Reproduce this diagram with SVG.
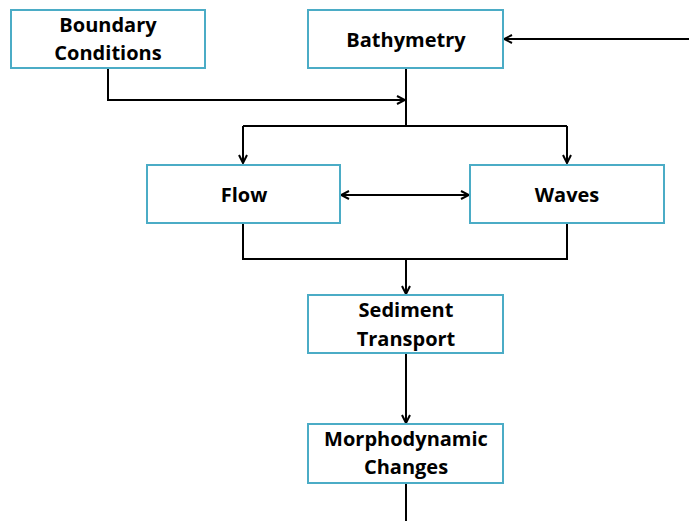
<svg xmlns="http://www.w3.org/2000/svg" width="689" height="521" viewBox="0 0 689 521">
<style>
.box{fill:#fff;stroke:#4BACC6;stroke-width:2}
.t{font-family:"Open Sans","Liberation Sans",sans-serif;font-weight:bold;font-size:20px;fill:#000;text-anchor:middle;dominant-baseline:central}
.c{fill:none;stroke:#000;stroke-width:2}
</style>
<defs>
<marker id="a" viewBox="0 0 10 10" refX="9" refY="5" markerWidth="10" markerHeight="10" markerUnits="userSpaceOnUse" orient="auto-start-reverse">
<path d="M1,1 L9,5 L1,9" fill="none" stroke="#000" stroke-width="2"/>
</marker>
</defs>
<rect width="689" height="521" fill="#fff"/>
<g id="connectors">
<path class="c" d="M689,39 H504" marker-end="url(#a)"/>
<path class="c" d="M108,68 V100 H405" marker-end="url(#a)"/>
<path class="c" d="M406,68 V126"/>
<path class="c" d="M243,126 H567"/>
<path class="c" d="M243,126 V163" marker-end="url(#a)"/>
<path class="c" d="M567,126 V163" marker-end="url(#a)"/>
<path class="c" d="M341,195 H469" marker-start="url(#a)" marker-end="url(#a)"/>
<path class="c" d="M243,223 V259 H567 V223"/>
<path class="c" d="M406,259 V294" marker-end="url(#a)"/>
<path class="c" d="M406,353 V423" marker-end="url(#a)"/>
<path class="c" d="M406,483 V521"/>
</g>
<g id="boundary">
<rect class="box" x="11" y="10" width="194" height="58"/>
<text class="t" x="108" y="24">Boundary</text>
<text class="t" x="108" y="52">Conditions</text>
</g>
<g id="bathymetry">
<rect class="box" x="308" y="10" width="195" height="58"/>
<text class="t" x="406" y="39">Bathymetry</text>
</g>
<g id="flow">
<rect class="box" x="147" y="165" width="193" height="58"/>
<text class="t" x="244" y="194">Flow</text>
</g>
<g id="waves">
<rect class="box" x="470" y="165" width="194" height="58"/>
<text class="t" x="567" y="194">Waves</text>
</g>
<g id="sediment">
<rect class="box" x="308" y="295" width="195" height="58"/>
<text class="t" x="406" y="309">Sediment</text>
<text class="t" x="406" y="338">Transport</text>
</g>
<g id="morpho">
<rect class="box" x="308" y="424" width="195" height="59"/>
<text class="t" x="406" y="438">Morphodynamic</text>
<text class="t" x="406" y="466">Changes</text>
</g>
</svg>
